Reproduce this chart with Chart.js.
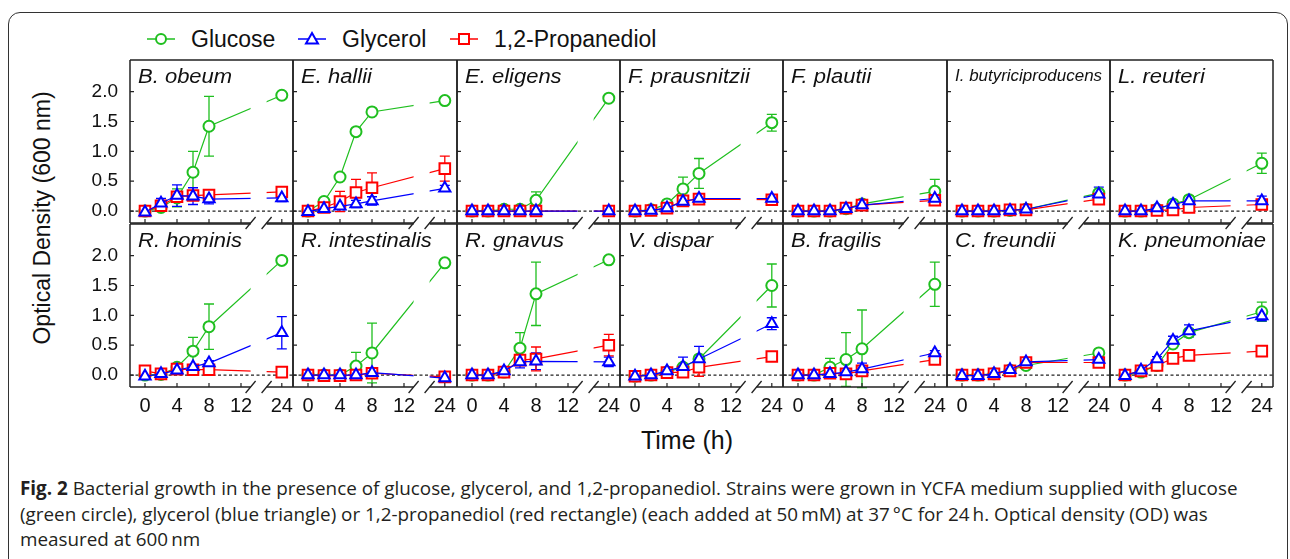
<!DOCTYPE html>
<html>
<head>
<meta charset="utf-8">
<script src="https://cdn.jsdelivr.net/npm/chart.js@4.4.1/dist/chart.umd.min.js"></script>
<style>
html, body { margin: 0; padding: 0; background: #fff; }
body { width: 1290px; height: 559px; position: relative; overflow: hidden; font-family: Arial, "Liberation Sans", sans-serif; color: #111; }
#frame { position: absolute; left: 8px; top: 12px; width: 1280px; height: 620px; border: 1.5px solid #333; border-radius: 12px; box-sizing: border-box; }
canvas { position: absolute; }
.strain { position: absolute; font-style: italic; font-size: 20px; line-height: 20px; white-space: nowrap; transform: scaleX(1.1); transform-origin: left center; z-index: 5; }
.strain.small { font-size: 16px; transform: scaleX(1.06); }
.ytitle { position: absolute; left: 42px; top: 218px; transform: translate(-50%, -50%) rotate(-90deg); font-size: 23px; white-space: nowrap; }
.xtitle { position: absolute; left: 687px; top: 440px; transform: translate(-50%, -50%); font-size: 25px; white-space: nowrap; }
.leg { position: absolute; top: 27px; font-size: 23px; line-height: 24px; white-space: nowrap; }
.legmark { position: absolute; top: 29px; }
#caption { position: absolute; left: 20px; top: 476px; font-family: "Open Sans", "Noto Sans", sans-serif; font-size: 17px; line-height: 25.5px; color: #231f20; white-space: nowrap; }
</style>
</head>
<body>
<div id="frame"></div>
<div class="ytitle">Optical Density (600 nm)</div>
<div class="xtitle">Time (h)</div>
<div id="caption">
<div id="cap1"><b>Fig. 2</b> Bacterial growth in the presence of glucose, glycerol, and 1,2-propanediol. Strains were grown in YCFA medium supplied with glucose</div>
<div>(green circle), glycerol (blue triangle) or 1,2-propanediol (red rectangle) (each added at 50&#8201;mM) at 37&#8201;°C for 24&#8201;h. Optical density (OD) was</div>
<div>measured at 600&#8201;nm</div>
</div>
<script>
const HOURS = [0, 2, 4, 6, 8, 24];
const X_TICKS = [0, 4, 8, 12, 24];
const Y_TICKS = [0, 0.5, 1, 1.5, 2];
const SERIES = ['Glucose', 'Glycerol', '1,2-Propanediol'];
const STRAINS = ['B. obeum', 'E. hallii', 'E. eligens', 'F. prausnitzii', 'F. plautii', 'I. butyriciproducens', 'L. reuteri',
  'R. hominis', 'R. intestinalis', 'R. gnavus', 'V. dispar', 'B. fragilis', 'C. freundii', 'K. pneumoniae'];

// OD600 per strain, one row per strain, values at HOURS
const GLUCOSE = [
  [0, 0.06, 0.22, 0.65, 1.42, 1.94],
  [0, 0.16, 0.57, 1.33, 1.66, 1.85],
  [0, 0, 0.03, 0.03, 0.18, 1.89],
  [0, 0.02, 0.12, 0.37, 0.63, 1.48],
  [0, 0, 0, 0.04, 0.12, 0.33],
  [0, 0, 0, 0.01, 0.03, 0.3],
  [0, 0, 0.03, 0.12, 0.19, 0.8],
  [0, 0.01, 0.13, 0.4, 0.81, 1.92],
  [0, 0, 0, 0.15, 0.37, 1.88],
  [0, 0, 0.05, 0.45, 1.36, 1.93],
  [-0.02, 0, 0.05, 0.13, 0.27, 1.5],
  [0, 0, 0.13, 0.26, 0.44, 1.52],
  [0, 0, 0.02, 0.08, 0.16, 0.37],
  [0, 0.05, 0.16, 0.52, 0.71, 1.06]
];
const GLUCOSE_SD = [
  [0, 0.04, 0.15, 0.35, 0.5, 0],
  [0, 0.02, 0.03, 0.03, 0.03, 0.03],
  [0, 0, 0, 0, 0.14, 0],
  [0, 0, 0.03, 0.2, 0.25, 0.14],
  [0, 0, 0, 0, 0.02, 0.2],
  [0, 0, 0, 0, 0, 0.06],
  [0, 0, 0.02, 0.03, 0.06, 0.17],
  [0, 0, 0.02, 0.23, 0.38, 0],
  [0, 0, 0, 0.23, 0.5, 0],
  [0, 0, 0.02, 0.26, 0.53, 0],
  [0, 0, 0.02, 0.05, 0.05, 0.36],
  [0, 0, 0.15, 0.45, 0.65, 0.37],
  [0, 0, 0.01, 0.02, 0.03, 0.03],
  [0, 0, 0.02, 0.05, 0.05, 0.16]
];
const GLYCEROL = [
  [-0.02, 0.13, 0.26, 0.25, 0.2, 0.22],
  [-0.01, 0.04, 0.08, 0.12, 0.17, 0.38],
  [0, 0, 0, 0, 0, 0],
  [0, 0.01, 0.05, 0.16, 0.21, 0.21],
  [0, 0, 0, 0.04, 0.1, 0.21],
  [0, 0, 0, 0.01, 0.03, 0.28],
  [0, 0, 0.05, 0.11, 0.17, 0.17],
  [-0.02, 0.02, 0.08, 0.14, 0.2, 0.71],
  [0, 0, 0, 0, 0.04, -0.05],
  [0, 0, 0.07, 0.22, 0.23, 0.22],
  [-0.02, 0, 0.07, 0.14, 0.27, 0.86],
  [0, 0, 0.02, 0.05, 0.1, 0.37],
  [-0.01, -0.01, 0.02, 0.09, 0.22, 0.26],
  [-0.01, 0.08, 0.27, 0.58, 0.74, 0.99]
];
const GLYCEROL_SD = [
  [0, 0.08, 0.18, 0.14, 0.08, 0.06],
  [0, 0.03, 0.05, 0.06, 0.07, 0.05],
  [0, 0, 0, 0, 0, 0],
  [0, 0, 0.02, 0.04, 0.06, 0.05],
  [0, 0, 0, 0.02, 0.03, 0.05],
  [0, 0, 0, 0, 0, 0.12],
  [0, 0, 0.02, 0.04, 0.05, 0.08],
  [0, 0.01, 0.02, 0.03, 0.04, 0.27],
  [0, 0, 0, 0, 0, 0.02],
  [0, 0, 0.05, 0.1, 0.14, 0.08],
  [0, 0, 0.03, 0.16, 0.21, 0.1],
  [0, 0, 0.02, 0.03, 0.1, 0.04],
  [0, 0, 0.01, 0.02, 0.03, 0.03],
  [0, 0.02, 0.04, 0.07, 0.1, 0.08]
];
const PROPANEDIOL = [
  [0, 0.09, 0.24, 0.26, 0.27, 0.32],
  [0, 0.06, 0.16, 0.31, 0.39, 0.71],
  [0, 0, 0, 0, 0, 0],
  [0, 0.01, 0.05, 0.17, 0.2, 0.19],
  [0, 0, 0, 0.05, 0.1, 0.18],
  [0, 0, 0, 0.02, 0.02, 0.2],
  [0, 0, 0.01, 0.02, 0.06, 0.11],
  [0.07, 0.02, 0.1, 0.09, 0.09, 0.05],
  [0, -0.01, -0.01, 0, 0.03, -0.03],
  [0, 0, 0.05, 0.25, 0.27, 0.5],
  [-0.02, 0, 0.04, 0.05, 0.13, 0.31],
  [0, 0, 0.03, 0.02, 0.07, 0.26],
  [0, 0, 0.02, 0.07, 0.21, 0.21],
  [0, 0.07, 0.16, 0.28, 0.33, 0.4]
];
const PROPANEDIOL_SD = [
  [0, 0.05, 0.08, 0.06, 0.05, 0.04],
  [0, 0.08, 0.17, 0.22, 0.25, 0.21],
  [0, 0, 0, 0, 0, 0],
  [0, 0, 0.02, 0.03, 0.04, 0.04],
  [0, 0, 0, 0.02, 0.02, 0.04],
  [0, 0, 0, 0, 0, 0.04],
  [0, 0, 0, 0, 0.02, 0.03],
  [0, 0, 0.02, 0.02, 0.02, 0.02],
  [0, 0, 0, 0, 0.02, 0.03],
  [0, 0, 0.03, 0.06, 0.2, 0.18],
  [0, 0, 0.02, 0.02, 0.15, 0.02],
  [0, 0, 0.02, 0.02, 0.03, 0.03],
  [0, 0, 0.01, 0.02, 0.03, 0.02],
  [0, 0.02, 0.02, 0.03, 0.03, 0.03]
];

const VALUES = [GLUCOSE, GLYCEROL, PROPANEDIOL];
const ERRORS = [GLUCOSE_SD, GLYCEROL_SD, PROPANEDIOL_SD];
const COLORS = ['#1fbf1f', '#0000ff', '#ff0000'];
const STYLES = ['circle', 'triangle', 'rect'];
const RADII = [5.5, 6.5, 7.5];
const ORDER = [2, 0, 1];   // blue on top, green at the bottom

// layout
const PANEL_X0 = 130, PANEL_W = 163.3, PANEL_H = 163, ROW_TOP = [60, 224];
const PX_PER_H = 8, X_LEFT = -1.875;
const Y_MIN = -0.2, Y_MAX = 2.53;
const GAP = [13.2, 15.2];
const TICK_FONT = { family: 'Arial, "Liberation Sans", sans-serif' };

// broken axis: 12..24 h squeezed so 24 h sits at 17.1
function brk(t) { return t <= 12 ? t : 12 + (t - 12) * 0.425; }

function noPad(s) { s.paddingTop = 0; s.paddingBottom = 0; s.paddingLeft = 0; s.paddingRight = 0; }

const decor = {
  id: 'decor',
  beforeDatasetsDraw(chart) {
    const { ctx, chartArea: a, scales: { x, y } } = chart;
    ctx.save();
    // zero line
    ctx.strokeStyle = '#222';
    ctx.lineWidth = 1.2;
    ctx.setLineDash([3, 2.5]);
    ctx.beginPath();
    ctx.moveTo(a.left, y.getPixelForValue(0));
    ctx.lineTo(a.right, y.getPixelForValue(0));
    ctx.stroke();
    ctx.setLineDash([]);
    // error bars
    chart.data.datasets.forEach((ds, i) => {
      const meta = chart.getDatasetMeta(i);
      ctx.strokeStyle = ds.borderColor;
      ctx.lineWidth = 1.3;
      ds.errors.forEach((e, k) => {
        if (!e) return;
        const px = meta.data[k].x;
        const v = ds.data[k].y;
        const y1 = y.getPixelForValue(v + e), y2 = y.getPixelForValue(v - e);
        ctx.beginPath();
        ctx.moveTo(px, y1); ctx.lineTo(px, y2);
        ctx.moveTo(px - 5, y1); ctx.lineTo(px + 5, y1);
        ctx.moveTo(px - 5, y2); ctx.lineTo(px + 5, y2);
        ctx.stroke();
      });
    });
    ctx.restore();
  },
  afterDatasetsDraw(chart, args, opts) {
    const { ctx, chartArea: a, scales: { x, y } } = chart;
    const g1 = x.getPixelForValue(GAP[0]), g2 = x.getPixelForValue(GAP[1]);
    ctx.save();
    // cut the lines at the axis break
    ctx.fillStyle = '#fff';
    ctx.fillRect(g1, a.top + 1, g2 - g1, a.bottom - a.top - 1);
    ctx.save();
    ctx.beginPath();
    ctx.rect(g1, a.top, g2 - g1, a.bottom - a.top);
    ctx.clip();
    ctx.strokeStyle = '#222';
    ctx.lineWidth = 1.2;
    ctx.setLineDash([3, 2.5]);
    ctx.beginPath();
    ctx.moveTo(a.left, y.getPixelForValue(0));
    ctx.lineTo(a.right, y.getPixelForValue(0));
    ctx.stroke();
    ctx.restore();

    // frame
    ctx.strokeStyle = '#222';
    ctx.lineWidth = 1.5;
    ctx.beginPath();
    ctx.moveTo(a.left, a.top); ctx.lineTo(a.left, a.bottom);
    ctx.moveTo(a.right, a.top); ctx.lineTo(a.right, a.bottom);
    if (opts.row === 0) {
      ctx.moveTo(a.left, a.top); ctx.lineTo(a.right, a.top);
    } else {
      ctx.moveTo(a.left, a.top); ctx.lineTo(g1, a.top);
      ctx.moveTo(g2, a.top); ctx.lineTo(a.right, a.top);
    }
    ctx.moveTo(a.left, a.bottom); ctx.lineTo(g1, a.bottom);
    ctx.moveTo(g2, a.bottom); ctx.lineTo(a.right, a.bottom);
    ctx.stroke();

    // break marks
    ctx.lineWidth = 1.3;
    ctx.beginPath();
    [g1, g2].forEach(g => {
      ctx.moveTo(g - 5, a.bottom + 6);
      ctx.lineTo(g + 5, a.bottom - 6);
    });
    ctx.stroke();

    // inward ticks
    ctx.lineWidth = 1.2;
    ctx.beginPath();
    Y_TICKS.forEach(v => {
      const py = y.getPixelForValue(v);
      ctx.moveTo(a.left, py); ctx.lineTo(a.left + 4, py);
    });
    X_TICKS.forEach(t => {
      const px = x.getPixelForValue(brk(t));
      ctx.moveTo(px, a.bottom); ctx.lineTo(px, a.bottom - 4);
    });
    ctx.stroke();
    ctx.restore();
  }
};

STRAINS.forEach((name, p) => {
  const row = p < 7 ? 0 : 1, col = p % 7;
  const left = Math.round(PANEL_X0 + col * PANEL_W);
  const right = Math.round(PANEL_X0 + (col + 1) * PANEL_W);
  const w = right - left;
  const showY = col === 0, showX = row === 1;
  const padL = showY ? 70 : 2, padB = showX ? 40 : 8;

  const cv = document.createElement('canvas');
  cv.width = w + padL + 2;
  cv.height = PANEL_H + 2 + padB;
  cv.style.left = (left - padL) + 'px';
  cv.style.top = (ROW_TOP[row] - 2) + 'px';
  cv.style.zIndex = row === 0 ? 3 : 2;
  document.body.appendChild(cv);

  const lab = document.createElement('div');
  lab.className = 'strain' + (name.length > 16 ? ' small' : '');
  lab.textContent = name;
  lab.style.left = (left + 8) + 'px';
  lab.style.top = (ROW_TOP[row] + 6) + 'px';
  document.body.appendChild(lab);

  new Chart(cv, {
    type: 'line',
    data: {
      datasets: SERIES.map((s, i) => ({
        label: s,
        data: HOURS.map((h, k) => ({ x: brk(h), y: VALUES[i][p][k] })),
        errors: ERRORS[i][p],
        borderColor: COLORS[i],
        backgroundColor: '#fff',
        borderWidth: 1.2,
        pointStyle: STYLES[i],
        pointRadius: RADII[i],
        pointBorderWidth: 2,
        pointBackgroundColor: '#fff',
        pointBorderColor: COLORS[i],
        order: ORDER[i],
        tension: 0
      }))
    },
    options: {
      responsive: false,
      animation: false,
      events: [],
      layout: { autoPadding: false, padding: { left: showY ? 0 : 2, right: 2, top: 2, bottom: showX ? 0 : 8 } },
      plugins: { legend: { display: false }, tooltip: { enabled: false }, decor: { row: row } },
      scales: {
        x: {
          type: 'linear',
          min: X_LEFT,
          max: X_LEFT + w / PX_PER_H,
          display: showX,
          grid: { display: false, drawTicks: false },
          border: { display: false },
          afterBuildTicks: s => { s.ticks = X_TICKS.map(t => ({ value: brk(t) })); },
          afterFit: s => { s.height = showX ? 40 : 0; noPad(s); },
          ticks: {
            autoSkip: false, maxRotation: 0, padding: 7, color: '#111',
            font: Object.assign({ size: 20 }, TICK_FONT),
            callback: (v, i) => String(X_TICKS[i])
          }
        },
        y: {
          min: Y_MIN,
          max: Y_MAX,
          display: showY,
          grid: { display: false, drawTicks: false },
          border: { display: false },
          afterBuildTicks: s => { s.ticks = Y_TICKS.map(v => ({ value: v })); },
          afterFit: s => { s.width = showY ? 70 : 0; noPad(s); },
          ticks: {
            autoSkip: false, padding: 12, color: '#111',
            font: Object.assign({ size: 19 }, TICK_FONT),
            callback: v => v.toFixed(1)
          }
        }
      }
    },
    plugins: [decor]
  });
});

// legend
const LEGEND_X = [147, 298, 450];
SERIES.forEach((s, i) => {
  const c = COLORS[i];
  let mark;
  if (STYLES[i] === 'circle') mark = `<circle cx="14" cy="10" r="5" fill="#fff" stroke="${c}" stroke-width="2"/>`;
  else if (STYLES[i] === 'triangle') mark = `<polygon points="14,4 20,14.5 8,14.5" fill="#fff" stroke="${c}" stroke-width="2"/>`;
  else mark = `<rect x="9" y="5" width="10" height="10" fill="#fff" stroke="${c}" stroke-width="2"/>`;
  const m = document.createElement('div');
  m.className = 'legmark';
  m.style.left = LEGEND_X[i] + 'px';
  m.innerHTML = `<svg width="28" height="20"><line x1="0" y1="10" x2="28" y2="10" stroke="${c}" stroke-width="1.5"/>${mark}</svg>`;
  document.body.appendChild(m);
  const t = document.createElement('div');
  t.className = 'leg';
  t.style.left = (LEGEND_X[i] + 44) + 'px';
  t.textContent = s;
  document.body.appendChild(t);
});

// fit caption width to the reference line length
const cap = document.getElementById('caption');
const cap1 = document.getElementById('cap1');
const wNow = cap1.getBoundingClientRect().width;
cap.style.fontSize = (17 * 1218 / wNow).toFixed(2) + 'px';
</script>
</body>
</html>
